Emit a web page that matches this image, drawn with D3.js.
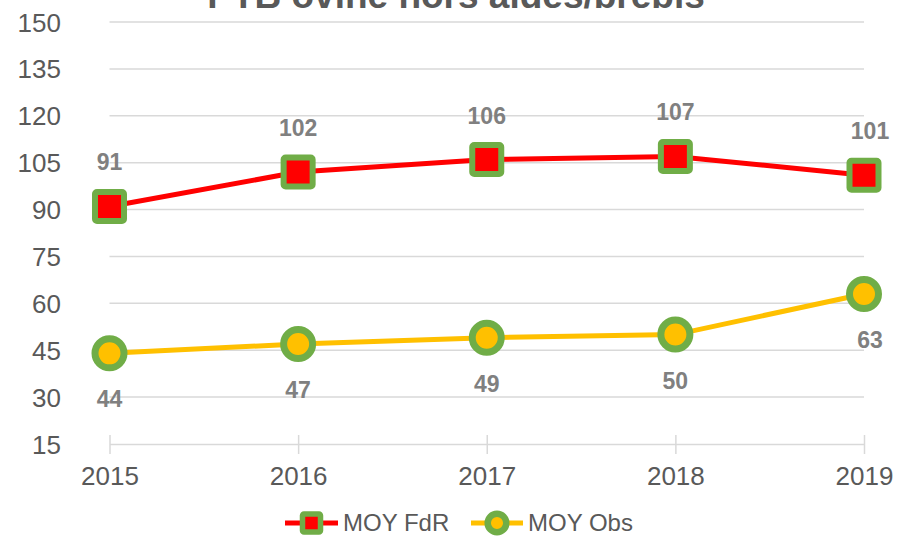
<!DOCTYPE html>
<html><head><meta charset="utf-8">
<script src="https://cdn.jsdelivr.net/npm/d3@7"></script>
<style>body{margin:0;background:#fff}svg{display:block}</style>
</head><body>
<svg id="chart" width="899" height="536"></svg>
<script>
const title = "PTB ovine hors aides/brebis";
const years = ["2015","2016","2017","2018","2019"];
const moyFdR = [91, 102, 106, 107, 101];
const moyObs = [44, 47, 49, 50, 63];
const yTicks = [15, 30, 45, 60, 75, 90, 105, 120, 135, 150];
const seriesNames = ["MOY FdR", "MOY Obs"];

const svg = d3.select("#chart");
const W = 899, H = 536;
svg.append("rect").attr("width", W).attr("height", H).attr("fill", "#fff");

const x = d3.scalePoint().domain(years).range([109.5, 864]);
const y = d3.scaleLinear().domain([15, 150]).range([444, 22]);
const font = "'Liberation Sans', Arial, sans-serif";

// gridlines
svg.append("g").selectAll("line").data(yTicks.filter(d => d !== 15)).join("line")
  .attr("x1", 109.5).attr("x2", 864)
  .attr("y1", d => y(d)).attr("y2", d => y(d))
  .attr("stroke", "#d9d9d9").attr("stroke-width", 1.5);

// x axis
const xAxis = d3.axisBottom(x).tickSize(0).tickPadding(0).tickFormat("");
const gx = svg.append("g").attr("transform", `translate(0,${y(15)})`).call(xAxis);
gx.select(".domain").attr("stroke", "#d9d9d9").attr("stroke-width", 1.5);
gx.selectAll(".tick").append("line").attr("y1", -9).attr("y2", 10)
  .attr("stroke", "#d9d9d9").attr("stroke-width", 1.5);
gx.selectAll(".tick").append("text").text(d => d)
  .attr("y", 41).attr("text-anchor", "middle")
  .attr("fill", "#595959").style("font-family", font).style("font-size", "26px");

// y axis
const yAxis = d3.axisLeft(y).tickValues(yTicks).tickSize(0).tickPadding(0);
const gy = svg.append("g").attr("transform", "translate(61,0)").call(yAxis);
gy.select(".domain").remove();
gy.selectAll("text").attr("fill", "#595959").attr("dy", "0.35em")
  .style("font-family", font).style("font-size", "26px");

// title (partly cut off at the top, as in the reference)
svg.append("text").text(title).attr("x", 456).attr("y", 8)
  .attr("text-anchor", "middle").attr("fill", "#595959")
  .style("font-family", font).style("font-size", "37px").style("font-weight", "bold");

const line = d3.line().x((d, i) => x(years[i])).y(d => y(d)).curve(d3.curveLinear);

svg.append("path").datum(moyObs).attr("d", line)
  .attr("fill", "none").attr("stroke", "#FFC000").attr("stroke-width", 5);
svg.append("path").datum(moyFdR).attr("d", line)
  .attr("fill", "none").attr("stroke", "#FF0000").attr("stroke-width", 5);

// markers
svg.append("g").selectAll("rect").data(moyFdR).join("rect")
  .attr("x", (d, i) => x(years[i]) - 14.5).attr("y", d => y(d) - 14.5)
  .attr("width", 29).attr("height", 29).attr("rx", 2)
  .attr("fill", "#FF0000").attr("stroke", "#70AD47").attr("stroke-width", 6);
svg.append("g").selectAll("circle").data(moyObs).join("circle")
  .attr("cx", (d, i) => x(years[i])).attr("cy", d => y(d)).attr("r", 14.5)
  .attr("fill", "#FFC000").attr("stroke", "#70AD47").attr("stroke-width", 7);

// data labels
const lblX = i => x(years[i]) + (i === years.length - 1 ? 6 : 0);
svg.append("g").selectAll("text").data(moyFdR).join("text")
  .text(d => d).attr("x", (d, i) => lblX(i)).attr("y", d => y(d) - 44).attr("dy", "0.35em")
  .attr("text-anchor", "middle").attr("fill", "#808080")
  .style("font-family", font).style("font-size", "23px").style("font-weight", "bold");
svg.append("g").selectAll("text").data(moyObs).join("text")
  .text(d => d).attr("x", (d, i) => lblX(i)).attr("y", d => y(d) + 46).attr("dy", "0.35em")
  .attr("text-anchor", "middle").attr("fill", "#808080")
  .style("font-family", font).style("font-size", "23px").style("font-weight", "bold");

// legend
const lg = svg.append("g");
const ly = 523;
lg.append("line").attr("x1", 285).attr("x2", 338).attr("y1", ly).attr("y2", ly)
  .attr("stroke", "#FF0000").attr("stroke-width", 5);
lg.append("rect").attr("x", 311.5 - 9).attr("y", ly - 9).attr("width", 18).attr("height", 18).attr("rx", 1.5)
  .attr("fill", "#FF0000").attr("stroke", "#70AD47").attr("stroke-width", 5.5);
lg.append("text").text(seriesNames[0]).attr("x", 343).attr("y", ly).attr("dy", "0.35em")
  .attr("fill", "#595959").style("font-family", font).style("font-size", "24px");
lg.append("line").attr("x1", 471).attr("x2", 523).attr("y1", ly).attr("y2", ly)
  .attr("stroke", "#FFC000").attr("stroke-width", 5);
lg.append("circle").attr("cx", 497).attr("cy", ly).attr("r", 9.3)
  .attr("fill", "#FFC000").attr("stroke", "#70AD47").attr("stroke-width", 6.5);
lg.append("text").text(seriesNames[1]).attr("x", 528).attr("y", ly).attr("dy", "0.35em")
  .attr("fill", "#595959").style("font-family", font).style("font-size", "24px");
</script>
</body></html>
